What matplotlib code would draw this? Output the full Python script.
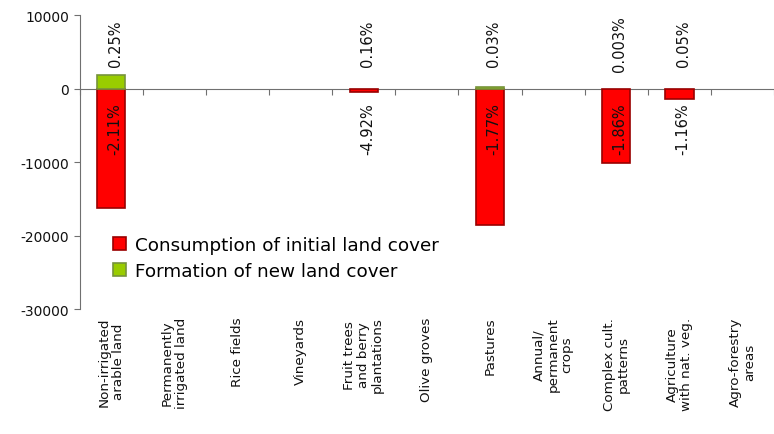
import numpy as np
import matplotlib.pyplot as plt
import matplotlib.transforms as mtransforms

# Land cover classes and flows (ha)
categories = ['Non-irrigated\narable land', 'Permanently\nirrigated land', 'Rice fields',
              'Vineyards', 'Fruit trees\nand berry\nplantations', 'Olive groves', 'Pastures',
              'Annual/\npermanent\ncrops', 'Complex cult.\npatterns', 'Agriculture\nwith nat. veg.',
              'Agro-forestry\nareas']
consumption = [-16200, 0, 0, 0, -400, 0, -18600, 0, -10100, -1400, 0]
formation = [1900, 0, 0, 0, 0, 0, 250, 0, 0, 0, 0]
cons_labels = ['-2.11%', None, None, None, '-4.92%', None, '-1.77%', None, '-1.86%', '-1.16%', None]
form_labels = ['0.25%', None, None, None, '0.16%', None, '0.03%', None, '0.003%', '0.05%', None]

fig = plt.figure(figsize=(7.74, 4.35), dpi=100)
ax = fig.add_axes([0.103, 0.287, 0.897, 0.676])

x = np.arange(len(categories))
w = 0.45
cons = np.array(consumption, dtype=float)
form = np.array(formation, dtype=float)
cons[cons == 0] = np.nan
form[form == 0] = np.nan
ax.bar(x, cons, w, color='#FF0000', edgecolor='#990000', linewidth=1.2,
       label='Consumption of initial land cover', zorder=2)
ax.bar(x, form, w, color='#99CC00', edgecolor='#77933C', linewidth=1.2,
       label='Formation of new land cover', zorder=2)

# percentage labels
for i in range(len(categories)):
    if form_labels[i]:
        ax.text(x[i] + 0.06, 6200, form_labels[i], rotation=90, ha='center', va='center',
                fontsize=10.5, color='#111111', zorder=3)
    if cons_labels[i]:
        ax.text(x[i] + 0.06, -5400, cons_labels[i], rotation=90, ha='center', va='center',
                fontsize=10.5, color='#111111', zorder=3)

ax.set_xlim(-0.5, len(categories) - 0.5)
ax.set_ylim(-30000, 10000)
ax.set_yticks([-30000, -20000, -10000, 0, 10000])
ax.set_yticklabels(['-30000', '-20000', '-10000', '0', '10000'])

for s in ['top', 'right']:
    ax.spines[s].set_visible(False)
ax.spines['bottom'].set_position(('data', 0))
ax.spines['bottom'].set_color('#707070')
ax.spines['left'].set_color('#707070')
ax.spines['bottom'].set_zorder(1)

ax.set_xticks(np.arange(len(categories) + 1) - 0.5)
ax.set_xticklabels([])
ax.tick_params(axis='x', direction='out', length=4, color='#707070')
ax.tick_params(axis='y', direction='out', length=4, color='#707070', labelsize=10,
               labelcolor='#111111')

# category labels below the plot area
trans = mtransforms.blended_transform_factory(ax.transData, ax.transAxes)
for i, c in enumerate(categories):
    ax.text(x[i], -0.025, c, transform=trans, rotation=90, ha='center', va='top',
            multialignment='center', fontsize=9.7, color='#111111', linespacing=1.1)

ax.legend(loc='upper left', bbox_to_anchor=(0.038, 0.275), frameon=False, fontsize=13.2,
          handlelength=0.7, handleheight=0.7, handletextpad=0.45, labelspacing=0.45,
          borderaxespad=0)

fig.savefig('out.png', dpi=100)
